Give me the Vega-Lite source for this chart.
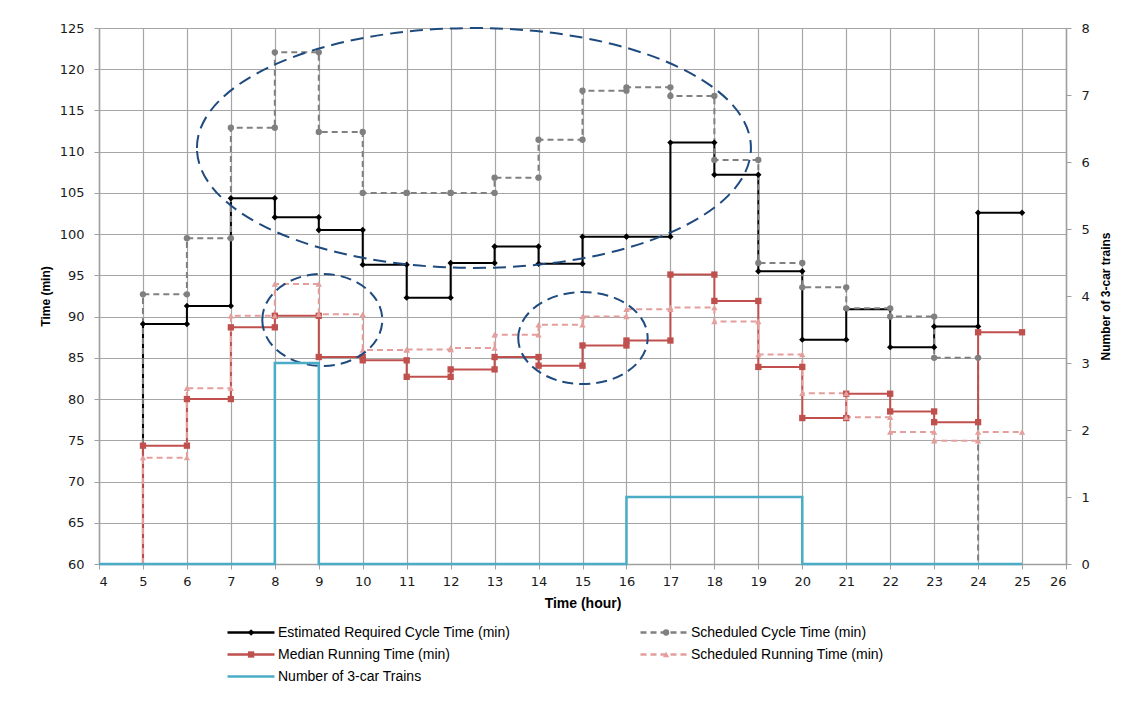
{
  "$schema": "https://vega.github.io/schema/vega-lite/v6.json",
  "width": 967,
  "height": 536,
  "autosize": {"type": "none"},
  "padding": {"left": 99, "top": 28, "right": 77, "bottom": 138},
  "background": "white",
  "config": {
    "view": {"stroke": null},
    "axis": {
      "labelFont": "DejaVu Sans",
      "labelFontSize": 13,
      "labelColor": "#1a1a1a",
      "titleFont": "Liberation Sans",
      "titleFontSize": 12,
      "titleFontWeight": "bold",
      "titleColor": "#000000",
      "gridColor": "#A6A6A6",
      "gridWidth": 1.2,
      "gridOpacity": 1,
      "domainColor": "#A0A0A0",
      "domainWidth": 1.5,
      "tickColor": "#A0A0A0",
      "tickSize": 5
    }
  },
  "datasets": {
    "steps": [
      {"series": "Estimated Required Cycle Time (min)", "h": 5, "v": 60, "i": 0},
      {"series": "Estimated Required Cycle Time (min)", "h": 5, "v": 89.1, "i": 1},
      {"series": "Estimated Required Cycle Time (min)", "h": 6, "v": 89.1, "i": 2},
      {"series": "Estimated Required Cycle Time (min)", "h": 6, "v": 91.3, "i": 3},
      {"series": "Estimated Required Cycle Time (min)", "h": 7, "v": 91.3, "i": 4},
      {"series": "Estimated Required Cycle Time (min)", "h": 7, "v": 104.35, "i": 5},
      {"series": "Estimated Required Cycle Time (min)", "h": 8, "v": 104.35, "i": 6},
      {"series": "Estimated Required Cycle Time (min)", "h": 8, "v": 102.05, "i": 7},
      {"series": "Estimated Required Cycle Time (min)", "h": 9, "v": 102.05, "i": 8},
      {"series": "Estimated Required Cycle Time (min)", "h": 9, "v": 100.5, "i": 9},
      {"series": "Estimated Required Cycle Time (min)", "h": 10, "v": 100.5, "i": 10},
      {"series": "Estimated Required Cycle Time (min)", "h": 10, "v": 96.3, "i": 11},
      {"series": "Estimated Required Cycle Time (min)", "h": 11, "v": 96.3, "i": 12},
      {"series": "Estimated Required Cycle Time (min)", "h": 11, "v": 92.3, "i": 13},
      {"series": "Estimated Required Cycle Time (min)", "h": 12, "v": 92.3, "i": 14},
      {"series": "Estimated Required Cycle Time (min)", "h": 12, "v": 96.5, "i": 15},
      {"series": "Estimated Required Cycle Time (min)", "h": 13, "v": 96.5, "i": 16},
      {"series": "Estimated Required Cycle Time (min)", "h": 13, "v": 98.5, "i": 17},
      {"series": "Estimated Required Cycle Time (min)", "h": 14, "v": 98.5, "i": 18},
      {"series": "Estimated Required Cycle Time (min)", "h": 14, "v": 96.4, "i": 19},
      {"series": "Estimated Required Cycle Time (min)", "h": 15, "v": 96.4, "i": 20},
      {"series": "Estimated Required Cycle Time (min)", "h": 15, "v": 99.7, "i": 21},
      {"series": "Estimated Required Cycle Time (min)", "h": 16, "v": 99.7, "i": 22},
      {"series": "Estimated Required Cycle Time (min)", "h": 16, "v": 99.7, "i": 23},
      {"series": "Estimated Required Cycle Time (min)", "h": 17, "v": 99.7, "i": 24},
      {"series": "Estimated Required Cycle Time (min)", "h": 17, "v": 111.1, "i": 25},
      {"series": "Estimated Required Cycle Time (min)", "h": 18, "v": 111.1, "i": 26},
      {"series": "Estimated Required Cycle Time (min)", "h": 18, "v": 107.2, "i": 27},
      {"series": "Estimated Required Cycle Time (min)", "h": 19, "v": 107.2, "i": 28},
      {"series": "Estimated Required Cycle Time (min)", "h": 19, "v": 95.5, "i": 29},
      {"series": "Estimated Required Cycle Time (min)", "h": 20, "v": 95.5, "i": 30},
      {"series": "Estimated Required Cycle Time (min)", "h": 20, "v": 87.2, "i": 31},
      {"series": "Estimated Required Cycle Time (min)", "h": 21, "v": 87.2, "i": 32},
      {"series": "Estimated Required Cycle Time (min)", "h": 21, "v": 90.9, "i": 33},
      {"series": "Estimated Required Cycle Time (min)", "h": 22, "v": 90.9, "i": 34},
      {"series": "Estimated Required Cycle Time (min)", "h": 22, "v": 86.3, "i": 35},
      {"series": "Estimated Required Cycle Time (min)", "h": 23, "v": 86.3, "i": 36},
      {"series": "Estimated Required Cycle Time (min)", "h": 23, "v": 88.8, "i": 37},
      {"series": "Estimated Required Cycle Time (min)", "h": 24, "v": 88.8, "i": 38},
      {"series": "Estimated Required Cycle Time (min)", "h": 24, "v": 102.6, "i": 39},
      {"series": "Estimated Required Cycle Time (min)", "h": 25, "v": 102.6, "i": 40},

      {"series": "Scheduled Cycle Time (min)", "h": 5, "v": 60, "i": 0},
      {"series": "Scheduled Cycle Time (min)", "h": 5, "v": 92.7, "i": 1},
      {"series": "Scheduled Cycle Time (min)", "h": 6, "v": 92.7, "i": 2},
      {"series": "Scheduled Cycle Time (min)", "h": 6, "v": 99.5, "i": 3},
      {"series": "Scheduled Cycle Time (min)", "h": 7, "v": 99.5, "i": 4},
      {"series": "Scheduled Cycle Time (min)", "h": 7, "v": 112.9, "i": 5},
      {"series": "Scheduled Cycle Time (min)", "h": 8, "v": 112.9, "i": 6},
      {"series": "Scheduled Cycle Time (min)", "h": 8, "v": 122.05, "i": 7},
      {"series": "Scheduled Cycle Time (min)", "h": 9, "v": 122.05, "i": 8},
      {"series": "Scheduled Cycle Time (min)", "h": 9, "v": 112.4, "i": 9},
      {"series": "Scheduled Cycle Time (min)", "h": 10, "v": 112.4, "i": 10},
      {"series": "Scheduled Cycle Time (min)", "h": 10, "v": 105.0, "i": 11},
      {"series": "Scheduled Cycle Time (min)", "h": 11, "v": 105.0, "i": 12},
      {"series": "Scheduled Cycle Time (min)", "h": 11, "v": 105.0, "i": 13},
      {"series": "Scheduled Cycle Time (min)", "h": 12, "v": 105.0, "i": 14},
      {"series": "Scheduled Cycle Time (min)", "h": 12, "v": 105.0, "i": 15},
      {"series": "Scheduled Cycle Time (min)", "h": 13, "v": 105.0, "i": 16},
      {"series": "Scheduled Cycle Time (min)", "h": 13, "v": 106.85, "i": 17},
      {"series": "Scheduled Cycle Time (min)", "h": 14, "v": 106.85, "i": 18},
      {"series": "Scheduled Cycle Time (min)", "h": 14, "v": 111.45, "i": 19},
      {"series": "Scheduled Cycle Time (min)", "h": 15, "v": 111.45, "i": 20},
      {"series": "Scheduled Cycle Time (min)", "h": 15, "v": 117.4, "i": 21},
      {"series": "Scheduled Cycle Time (min)", "h": 16, "v": 117.4, "i": 22},
      {"series": "Scheduled Cycle Time (min)", "h": 16, "v": 117.8, "i": 23},
      {"series": "Scheduled Cycle Time (min)", "h": 17, "v": 117.8, "i": 24},
      {"series": "Scheduled Cycle Time (min)", "h": 17, "v": 116.75, "i": 25},
      {"series": "Scheduled Cycle Time (min)", "h": 18, "v": 116.75, "i": 26},
      {"series": "Scheduled Cycle Time (min)", "h": 18, "v": 109.0, "i": 27},
      {"series": "Scheduled Cycle Time (min)", "h": 19, "v": 109.0, "i": 28},
      {"series": "Scheduled Cycle Time (min)", "h": 19, "v": 96.5, "i": 29},
      {"series": "Scheduled Cycle Time (min)", "h": 20, "v": 96.5, "i": 30},
      {"series": "Scheduled Cycle Time (min)", "h": 20, "v": 93.55, "i": 31},
      {"series": "Scheduled Cycle Time (min)", "h": 21, "v": 93.55, "i": 32},
      {"series": "Scheduled Cycle Time (min)", "h": 21, "v": 91.0, "i": 33},
      {"series": "Scheduled Cycle Time (min)", "h": 22, "v": 91.0, "i": 34},
      {"series": "Scheduled Cycle Time (min)", "h": 22, "v": 90.0, "i": 35},
      {"series": "Scheduled Cycle Time (min)", "h": 23, "v": 90.0, "i": 36},
      {"series": "Scheduled Cycle Time (min)", "h": 23, "v": 85.0, "i": 37},
      {"series": "Scheduled Cycle Time (min)", "h": 24, "v": 85.0, "i": 38},
      {"series": "Scheduled Cycle Time (min)", "h": 24, "v": 60, "i": 39},

      {"series": "Median Running Time (min)", "h": 5, "v": 60, "i": 0},
      {"series": "Median Running Time (min)", "h": 5, "v": 74.35, "i": 1},
      {"series": "Median Running Time (min)", "h": 6, "v": 74.35, "i": 2},
      {"series": "Median Running Time (min)", "h": 6, "v": 80.0, "i": 3},
      {"series": "Median Running Time (min)", "h": 7, "v": 80.0, "i": 4},
      {"series": "Median Running Time (min)", "h": 7, "v": 88.7, "i": 5},
      {"series": "Median Running Time (min)", "h": 8, "v": 88.7, "i": 6},
      {"series": "Median Running Time (min)", "h": 8, "v": 90.1, "i": 7},
      {"series": "Median Running Time (min)", "h": 9, "v": 90.1, "i": 8},
      {"series": "Median Running Time (min)", "h": 9, "v": 85.1, "i": 9},
      {"series": "Median Running Time (min)", "h": 10, "v": 85.1, "i": 10},
      {"series": "Median Running Time (min)", "h": 10, "v": 84.7, "i": 11},
      {"series": "Median Running Time (min)", "h": 11, "v": 84.7, "i": 12},
      {"series": "Median Running Time (min)", "h": 11, "v": 82.7, "i": 13},
      {"series": "Median Running Time (min)", "h": 12, "v": 82.7, "i": 14},
      {"series": "Median Running Time (min)", "h": 12, "v": 83.6, "i": 15},
      {"series": "Median Running Time (min)", "h": 13, "v": 83.6, "i": 16},
      {"series": "Median Running Time (min)", "h": 13, "v": 85.1, "i": 17},
      {"series": "Median Running Time (min)", "h": 14, "v": 85.1, "i": 18},
      {"series": "Median Running Time (min)", "h": 14, "v": 84.05, "i": 19},
      {"series": "Median Running Time (min)", "h": 15, "v": 84.05, "i": 20},
      {"series": "Median Running Time (min)", "h": 15, "v": 86.5, "i": 21},
      {"series": "Median Running Time (min)", "h": 16, "v": 86.5, "i": 22},
      {"series": "Median Running Time (min)", "h": 16, "v": 87.1, "i": 23},
      {"series": "Median Running Time (min)", "h": 17, "v": 87.1, "i": 24},
      {"series": "Median Running Time (min)", "h": 17, "v": 95.1, "i": 25},
      {"series": "Median Running Time (min)", "h": 18, "v": 95.1, "i": 26},
      {"series": "Median Running Time (min)", "h": 18, "v": 91.9, "i": 27},
      {"series": "Median Running Time (min)", "h": 19, "v": 91.9, "i": 28},
      {"series": "Median Running Time (min)", "h": 19, "v": 83.9, "i": 29},
      {"series": "Median Running Time (min)", "h": 20, "v": 83.9, "i": 30},
      {"series": "Median Running Time (min)", "h": 20, "v": 77.7, "i": 31},
      {"series": "Median Running Time (min)", "h": 21, "v": 77.7, "i": 32},
      {"series": "Median Running Time (min)", "h": 21, "v": 80.65, "i": 33},
      {"series": "Median Running Time (min)", "h": 22, "v": 80.65, "i": 34},
      {"series": "Median Running Time (min)", "h": 22, "v": 78.5, "i": 35},
      {"series": "Median Running Time (min)", "h": 23, "v": 78.5, "i": 36},
      {"series": "Median Running Time (min)", "h": 23, "v": 77.2, "i": 37},
      {"series": "Median Running Time (min)", "h": 24, "v": 77.2, "i": 38},
      {"series": "Median Running Time (min)", "h": 24, "v": 88.1, "i": 39},
      {"series": "Median Running Time (min)", "h": 25, "v": 88.1, "i": 40},

      {"series": "Scheduled Running Time (min)", "h": 5, "v": 60, "i": 0},
      {"series": "Scheduled Running Time (min)", "h": 5, "v": 72.9, "i": 1},
      {"series": "Scheduled Running Time (min)", "h": 6, "v": 72.9, "i": 2},
      {"series": "Scheduled Running Time (min)", "h": 6, "v": 81.3, "i": 3},
      {"series": "Scheduled Running Time (min)", "h": 7, "v": 81.3, "i": 4},
      {"series": "Scheduled Running Time (min)", "h": 7, "v": 90.1, "i": 5},
      {"series": "Scheduled Running Time (min)", "h": 8, "v": 90.1, "i": 6},
      {"series": "Scheduled Running Time (min)", "h": 8, "v": 93.95, "i": 7},
      {"series": "Scheduled Running Time (min)", "h": 9, "v": 93.95, "i": 8},
      {"series": "Scheduled Running Time (min)", "h": 9, "v": 90.3, "i": 9},
      {"series": "Scheduled Running Time (min)", "h": 10, "v": 90.3, "i": 10},
      {"series": "Scheduled Running Time (min)", "h": 10, "v": 85.95, "i": 11},
      {"series": "Scheduled Running Time (min)", "h": 11, "v": 85.95, "i": 12},
      {"series": "Scheduled Running Time (min)", "h": 11, "v": 86.0, "i": 13},
      {"series": "Scheduled Running Time (min)", "h": 12, "v": 86.0, "i": 14},
      {"series": "Scheduled Running Time (min)", "h": 12, "v": 86.2, "i": 15},
      {"series": "Scheduled Running Time (min)", "h": 13, "v": 86.2, "i": 16},
      {"series": "Scheduled Running Time (min)", "h": 13, "v": 87.8, "i": 17},
      {"series": "Scheduled Running Time (min)", "h": 14, "v": 87.8, "i": 18},
      {"series": "Scheduled Running Time (min)", "h": 14, "v": 89.0, "i": 19},
      {"series": "Scheduled Running Time (min)", "h": 15, "v": 89.0, "i": 20},
      {"series": "Scheduled Running Time (min)", "h": 15, "v": 90.0, "i": 21},
      {"series": "Scheduled Running Time (min)", "h": 16, "v": 90.0, "i": 22},
      {"series": "Scheduled Running Time (min)", "h": 16, "v": 90.9, "i": 23},
      {"series": "Scheduled Running Time (min)", "h": 17, "v": 90.9, "i": 24},
      {"series": "Scheduled Running Time (min)", "h": 17, "v": 91.1, "i": 25},
      {"series": "Scheduled Running Time (min)", "h": 18, "v": 91.1, "i": 26},
      {"series": "Scheduled Running Time (min)", "h": 18, "v": 89.4, "i": 27},
      {"series": "Scheduled Running Time (min)", "h": 19, "v": 89.4, "i": 28},
      {"series": "Scheduled Running Time (min)", "h": 19, "v": 85.4, "i": 29},
      {"series": "Scheduled Running Time (min)", "h": 20, "v": 85.4, "i": 30},
      {"series": "Scheduled Running Time (min)", "h": 20, "v": 80.7, "i": 31},
      {"series": "Scheduled Running Time (min)", "h": 21, "v": 80.7, "i": 32},
      {"series": "Scheduled Running Time (min)", "h": 21, "v": 77.8, "i": 33},
      {"series": "Scheduled Running Time (min)", "h": 22, "v": 77.8, "i": 34},
      {"series": "Scheduled Running Time (min)", "h": 22, "v": 76.0, "i": 35},
      {"series": "Scheduled Running Time (min)", "h": 23, "v": 76.0, "i": 36},
      {"series": "Scheduled Running Time (min)", "h": 23, "v": 74.95, "i": 37},
      {"series": "Scheduled Running Time (min)", "h": 24, "v": 74.95, "i": 38},
      {"series": "Scheduled Running Time (min)", "h": 24, "v": 76.0, "i": 39},
      {"series": "Scheduled Running Time (min)", "h": 25, "v": 76.0, "i": 40}
    ],
    "trains": [
      {"series": "Number of 3-car Trains", "h": 4, "n": 0, "i": 0},
      {"series": "Number of 3-car Trains", "h": 8, "n": 0, "i": 1},
      {"series": "Number of 3-car Trains", "h": 8, "n": 3, "i": 2},
      {"series": "Number of 3-car Trains", "h": 9, "n": 3, "i": 3},
      {"series": "Number of 3-car Trains", "h": 9, "n": 0, "i": 4},
      {"series": "Number of 3-car Trains", "h": 16, "n": 0, "i": 5},
      {"series": "Number of 3-car Trains", "h": 16, "n": 1, "i": 6},
      {"series": "Number of 3-car Trains", "h": 20, "n": 1, "i": 7},
      {"series": "Number of 3-car Trains", "h": 20, "n": 0, "i": 8},
      {"series": "Number of 3-car Trains", "h": 25, "n": 0, "i": 9}
    ],
    "bigEllipse": [{"h": 12.53, "v": 110.45}],
    "ellipseA": [{"h": 9.08, "v": 89.6}],
    "ellipseB": [{"h": 15.01, "v": 87.4}]
  },
  "layer": [
    {
      "encoding": {
        "x": {
          "field": "h", "type": "quantitative",
          "scale": {"domain": [4, 26], "nice": false, "zero": false},
          "axis": {"title": "Time (hour)", "titleFontSize": 14, "values": [4,5,6,7,8,9,10,11,12,13,14,15,16,17,18,19,20,21,22,23,24,25,26], "grid": true, "labelPadding": 6, "titlePadding": 8}
        },
        "y": {
          "field": "v", "type": "quantitative",
          "scale": {"domain": [60, 125], "nice": false, "zero": false},
          "axis": {"title": "Time (min)", "values": [60,65,70,75,80,85,90,95,100,105,110,115,120,125], "grid": true, "labelPadding": 10, "titlePadding": 7}
        }
      },
      "layer": [
        {
          "data": {"name": "steps"},
          "mark": {"type": "line", "strokeWidth": 2},
          "encoding": {
            "order": {"field": "i", "type": "quantitative"},
            "color": {
              "field": "series", "type": "nominal",
              "scale": {
                "domain": ["Estimated Required Cycle Time (min)", "Scheduled Cycle Time (min)", "Median Running Time (min)", "Scheduled Running Time (min)", "Number of 3-car Trains"],
                "range": ["#000000", "#808080", "#C0504D", "#E49E9C", "#4BACC6"]
              },
              "legend": {
                "title": null, "orient": "none", "legendX": 127, "legendY": 597, "direction": "horizontal",
                "columns": 2, "columnPadding": 128, "rowPadding": 7, "clipHeight": 15,
                "symbolType": "stroke", "symbolSize": 2209, "symbolStrokeWidth": 2.5,
                "labelFont": "Liberation Sans", "labelFontSize": 14, "labelColor": "#000000",
                "labelLimit": 400, "labelOffset": 2, "padding": 0
              }
            },
            "strokeDash": {
              "field": "series", "type": "nominal",
              "scale": {
                "domain": ["Estimated Required Cycle Time (min)", "Scheduled Cycle Time (min)", "Median Running Time (min)", "Scheduled Running Time (min)", "Number of 3-car Trains"],
                "range": [[1, 0], [6, 4], [1, 0], [6, 4], [1, 0]]
              },
              "legend": {
                "title": null, "orient": "none", "legendX": 127, "legendY": 597, "direction": "horizontal",
                "columns": 2, "columnPadding": 128, "rowPadding": 7, "clipHeight": 15,
                "symbolType": "stroke", "symbolSize": 2209, "symbolStrokeWidth": 2.5,
                "labelFont": "Liberation Sans", "labelFontSize": 14, "labelColor": "#000000",
                "labelLimit": 400, "labelOffset": 2, "padding": 0
              }
            }
          }
        },
        {
          "data": {"name": "steps"},
          "transform": [{"filter": "datum.v > 60"}],
          "mark": {"type": "point", "filled": true, "opacity": 1, "size": 40},
          "encoding": {
            "color": {"field": "series", "type": "nominal", "legend": null},
            "shape": {
              "field": "series", "type": "nominal",
              "scale": {
                "domain": ["Estimated Required Cycle Time (min)", "Scheduled Cycle Time (min)", "Median Running Time (min)", "Scheduled Running Time (min)"],
                "range": ["diamond", "circle", "square", "triangle-up"]
              },
              "legend": {
                "title": null, "orient": "none", "legendX": 127, "legendY": 597, "direction": "horizontal",
                "columns": 2, "columnPadding": 380, "rowPadding": 7, "clipHeight": 15,
                "symbolSize": 40, "symbolStrokeWidth": 0, "symbolOffset": 18.1,
                "symbolFillColor": {"expr": "scale('color', datum.value)"},
                "labelExpr": "''",
                "labelFont": "Liberation Sans", "labelFontSize": 14,
                "labelLimit": 400, "labelOffset": 2, "padding": 0
              }
            }
          }
        },
        {
          "data": {"name": "bigEllipse"},
          "mark": {
            "type": "point", "filled": false, "opacity": 1, "stroke": "#1F4A7E", "strokeWidth": 2, "strokeDash": [13, 7],
            "size": 306916,
            "shape": "M -1 0 C -1 -0.2392 -0.5523 -0.433 0 -0.433 C 0.5523 -0.433 1 -0.2392 1 0 C 1 0.2392 0.5523 0.433 0 0.433 C -0.5523 0.433 -1 0.2392 -1 0 Z"
          },
          "encoding": {}
        },
        {
          "data": {"name": "ellipseA"},
          "mark": {
            "type": "point", "filled": false, "opacity": 1, "stroke": "#1F4A7E", "strokeWidth": 2, "strokeDash": [11, 6],
            "size": 14400,
            "shape": "M -1 0 C -1 -0.4236 -0.5523 -0.767 0 -0.767 C 0.5523 -0.767 1 -0.4236 1 0 C 1 0.4236 0.5523 0.767 0 0.767 C -0.5523 0.767 -1 0.4236 -1 0 Z"
          },
          "encoding": {}
        },
        {
          "data": {"name": "ellipseB"},
          "mark": {
            "type": "point", "filled": false, "opacity": 1, "stroke": "#1F4A7E", "strokeWidth": 2, "strokeDash": [11, 6],
            "size": 16744,
            "shape": "M -1 0 C -1 -0.3927 -0.5523 -0.711 0 -0.711 C 0.5523 -0.711 1 -0.3927 1 0 C 1 0.3927 0.5523 0.711 0 0.711 C -0.5523 0.711 -1 0.3927 -1 0 Z"
          },
          "encoding": {}
        }
      ]
    },
    {
      "data": {"name": "trains"},
      "mark": {"type": "line", "strokeWidth": 2.5},
      "encoding": {
        "x": {
          "field": "h", "type": "quantitative",
          "scale": {"domain": [4, 26], "nice": false, "zero": false},
          "axis": {"title": "Time (hour)", "titleFontSize": 14, "values": [4,5,6,7,8,9,10,11,12,13,14,15,16,17,18,19,20,21,22,23,24,25,26], "grid": true, "labelPadding": 6, "titlePadding": 8}
        },
        "y": {
          "field": "n", "type": "quantitative",
          "scale": {"domain": [0, 8], "nice": false},
          "axis": {"orient": "right", "title": "Number of 3-car trains", "titleAngle": 270, "values": [0,1,2,3,4,5,6,7,8], "grid": false, "labelPadding": 10, "titlePadding": 23}
        },
        "order": {"field": "i", "type": "quantitative"},
        "color": {
          "field": "series", "type": "nominal",
          "legend": {
            "title": null, "orient": "none", "legendX": 127, "legendY": 597, "direction": "horizontal",
            "columns": 2, "columnPadding": 128, "rowPadding": 7, "clipHeight": 15,
            "symbolType": "stroke", "symbolSize": 2209, "symbolStrokeWidth": 2.5,
            "labelFont": "Liberation Sans", "labelFontSize": 14, "labelColor": "#000000",
            "labelLimit": 400, "labelOffset": 2, "padding": 0
          }
        },
        "strokeDash": {
          "field": "series", "type": "nominal",
          "legend": {
            "title": null, "orient": "none", "legendX": 127, "legendY": 597, "direction": "horizontal",
            "columns": 2, "columnPadding": 128, "rowPadding": 7, "clipHeight": 15,
            "symbolType": "stroke", "symbolSize": 2209, "symbolStrokeWidth": 2.5,
            "labelFont": "Liberation Sans", "labelFontSize": 14, "labelColor": "#000000",
            "labelLimit": 400, "labelOffset": 2, "padding": 0
          }
        }
      }
    }
  ],
  "resolve": {"scale": {"y": "independent"}}
}
